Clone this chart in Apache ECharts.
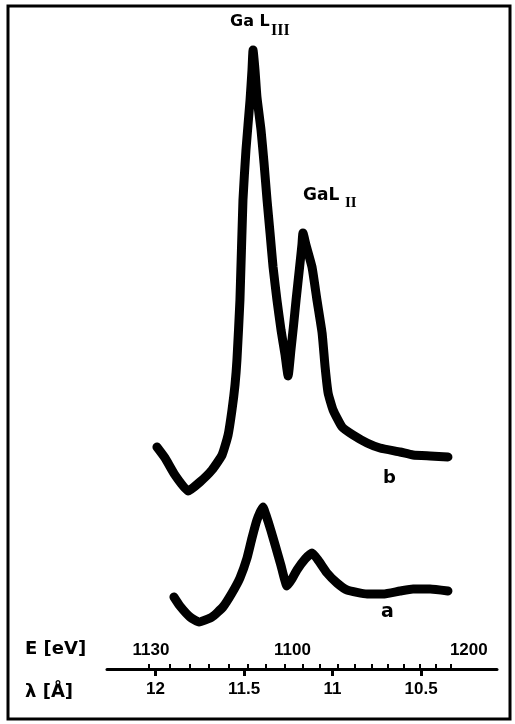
<!DOCTYPE html>
<html>
<head>
<meta charset="utf-8">
<script src="https://cdn.jsdelivr.net/npm/echarts@6/dist/echarts.min.js"></script>
<style>html,body{margin:0;padding:0;background:#fff}#c{width:515px;height:724px}</style>
</head>
<body>
<div id="c"></div>
<script>
// wavelength (Å) of each sampled point, and intensity (arb. units)
const lambdaB = [11.992,11.946,11.890,11.816,11.749,11.681,11.624,11.590,11.568,11.551,11.540,11.523,11.506,11.489,11.466,11.455,11.449,11.438,11.427,11.404,11.387,11.370,11.353,11.336,11.314,11.291,11.268,11.251,11.235,11.220,11.206,11.186,11.173,11.167,11.150,11.116,11.088,11.059,11.042,11.025,10.997,10.946,10.884,10.805,10.732,10.619,10.545,10.449,10.348];
const intensB = [44.4,42.2,38.8,35.6,37.4,39.8,42.8,46.8,51.8,56.8,61.8,73.8,93.8,103.8,113.8,119.8,123.8,119.8,114.4,107.8,101.2,93.8,87.2,80.4,73.8,67.8,62.8,58.6,63.8,68.8,73.8,80.4,84.8,87.2,84.8,80.4,73.8,67.2,60.4,55.2,51.8,48.4,46.8,45.2,44.2,43.4,42.8,42.6,42.4];
const lambdaA = [11.896,11.862,11.805,11.754,11.681,11.619,11.568,11.523,11.483,11.455,11.427,11.393,11.376,11.349,11.321,11.292,11.257,11.229,11.201,11.155,11.116,11.082,11.031,10.975,10.918,10.805,10.715,10.619,10.545,10.449,10.348];
const intensA = [14.4,12.6,10.4,9.4,10.4,12.4,15.2,18.2,22.2,26.2,29.8,32.4,30.8,27.8,24.4,20.8,16.6,18.0,19.8,22.0,23.2,21.8,19.2,17.2,15.8,15.0,15.0,15.6,16.0,16.0,15.6];

const lambdaTicks = [12, 11.5, 11, 10.5];
const lambdaLabels = ['12', '11.5', '11', '10.5'];
const energyTicks = [1030,1040,1050,1060,1070,1080,1090,1100,1110,1120,1130,1140,1150,1160,1170,1180,1190,1200];
const energyLabelValues = [1030, 1100, 1200];
const energyLabels = ['1130', '1100', '1200'];
const HC = 12398.4; // eV·Å

const seriesB = lambdaB.map((l, i) => [l, intensB[i]]);
const seriesA = lambdaA.map((l, i) => [l, intensA[i]]);

const FONT = '"Liberation Sans", Arial, sans-serif';
const HEAVY = '"DejaVu Sans", sans-serif';
const chart = echarts.init(document.getElementById('c'), null, {renderer: 'canvas'});
const eLabelLambda = energyLabelValues.map(e => HC / e);
const lineStyle = {color: '#000', width: 9, join: 'round', cap: 'round'};

chart.setOption({
  backgroundColor: '#fff',
  animation: false,
  grid: {left: 107, right: 18, top: 19, bottom: 55},
  xAxis: [
    {
      type: 'value', min: 10.071, max: 12.274, inverse: true, position: 'bottom',
      splitLine: {show: false},
      axisLine: {show: true, lineStyle: {color: '#000', width: 3}},
      axisTick: {show: true, customValues: lambdaTicks, length: 7, lineStyle: {color: '#000', width: 3}},
      axisLabel: {
        show: true, customValues: lambdaTicks, margin: 12,
        color: '#000', fontFamily: FONT, fontWeight: 'bold', fontSize: 17,
        formatter: v => { const i = lambdaTicks.findIndex(t => Math.abs(t - v) < 1e-6); return i >= 0 ? lambdaLabels[i] : ''; }
      }
    },
    {
      type: 'value', min: 10.071, max: 12.274, inverse: true, position: 'bottom',
      splitLine: {show: false},
      axisLine: {show: false},
      axisTick: {show: true, inside: true, customValues: energyTicks.map(e => HC / e), length: 5, lineStyle: {color: '#000', width: 2}},
      axisLabel: {
        show: true, inside: true, customValues: eLabelLambda, margin: 10,
        color: '#000', fontFamily: FONT, fontWeight: 'bold', fontSize: 17,
        formatter: v => { const i = eLabelLambda.findIndex(t => Math.abs(t - v) < 1e-6); return i >= 0 ? '{s' + i + '|' + energyLabels[i] + '}' : ''; },
        rich: {
          s0: {fontFamily: FONT, fontWeight: 'bold', fontSize: 17, color: '#000', padding: [0, 0, 0, 4]},
          s1: {fontFamily: FONT, fontWeight: 'bold', fontSize: 17, color: '#000', padding: [0, 0, 0, 16]},
          s2: {fontFamily: FONT, fontWeight: 'bold', fontSize: 17, color: '#000', padding: [0, 0, 0, 36]}
        }
      }
    }
  ],
  yAxis: {type: 'value', min: 0, max: 130, show: false},
  series: [
    {name: 'b', type: 'line', xAxisIndex: 0, data: seriesB, showSymbol: false, smooth: 0.15, lineStyle: lineStyle},
    {name: 'a', type: 'line', xAxisIndex: 0, data: seriesA, showSymbol: false, smooth: 0.15, lineStyle: lineStyle}
  ],
  graphic: [
    {type: 'rect', shape: {x: 8, y: 6, width: 502, height: 713}, style: {fill: 'none', stroke: '#000', lineWidth: 3}, silent: true},
    {type: 'text', left: 230, top: 14, style: {text: 'Ga L', font: 'bold 16px ' + HEAVY, fill: '#000'}},
    {type: 'text', left: 271, top: 23, style: {text: 'III', font: 'bold 16px "Liberation Serif", serif', fill: '#000'}},
    {type: 'text', left: 303, top: 187, style: {text: 'GaL', font: 'bold 17px ' + HEAVY, fill: '#000'}},
    {type: 'text', left: 345, top: 196, style: {text: 'II', font: 'bold 15px "Liberation Serif", serif', fill: '#000'}},
    {type: 'text', left: 383, top: 469, style: {text: 'b', font: 'bold 18px ' + HEAVY, fill: '#000'}},
    {type: 'text', left: 381, top: 603, style: {text: 'a', font: 'bold 19px ' + HEAVY, fill: '#000'}},
    {type: 'text', left: 25, top: 640, style: {text: 'E [eV]', font: 'bold 18px ' + HEAVY, fill: '#000'}},
    {type: 'text', left: 25, top: 683, style: {text: 'λ [Å]', font: 'bold 18px ' + HEAVY, fill: '#000'}}
  ]
});
</script>
</body>
</html>
